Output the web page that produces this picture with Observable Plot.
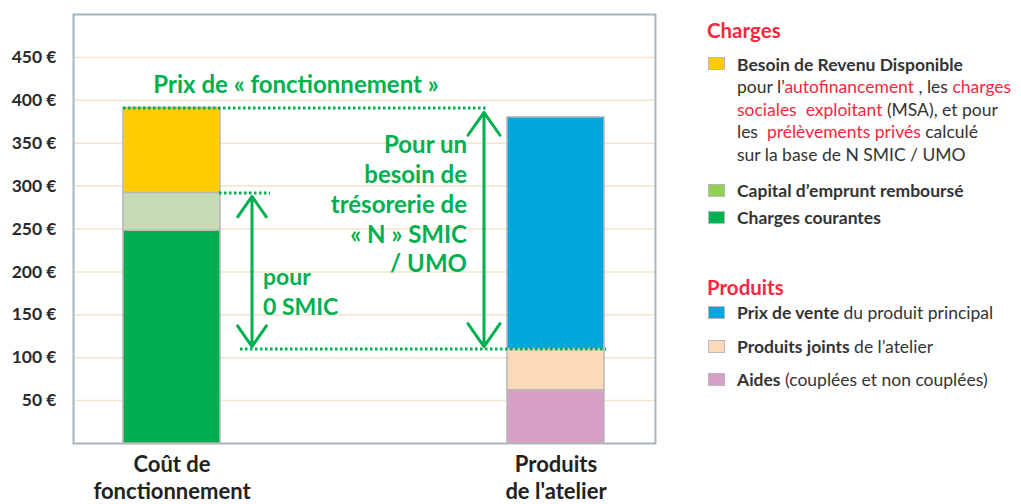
<!DOCTYPE html>
<html>
<head>
<meta charset="utf-8">
<script src="https://cdn.jsdelivr.net/npm/d3@7"></script>
<script src="https://cdn.jsdelivr.net/npm/@observablehq/plot@0.6"></script>
<style>
  html, body { margin: 0; padding: 0; background: #fff; }
  #wrap { position: relative; width: 1021px; height: 504px; font-family: Lato, "Open Sans", sans-serif; overflow: hidden; }
  #legend { position: absolute; left: 0; top: 0; width: 1021px; height: 504px; pointer-events: none; }
  .li { position: absolute; left: 737px; font-size: 17.5px; color: #333; white-space: nowrap; line-height: 22px; }
  .hd { position: absolute; left: 707px; font-size: 20.5px; font-weight: bold; color: #f5283f; line-height: 24px; }
  .sw { position: absolute; left: 708px; width: 17px; height: 13px; box-sizing: border-box; border: 1px solid #b9b9b9; }
  .r { color: #f5283f; }
  b { font-weight: bold; }
</style>
</head>
<body>
<div id="wrap"><div id="chart"></div><div id="legend"></div></div>
<script>
// ---- data ----
const categories = ["Coût de\nfonctionnement", "Produits\nde l'atelier"];
const seriesNames = ["Charges courantes", "Capital d'emprunt remboursé", "Besoin de Revenu Disponible",
                     "Aides", "Produits joints", "Prix de vente"];
const seriesCategory = [0, 0, 0, 1, 1, 1];
const seriesValues = [248, 44, 99, 62, 48, 270];
const barColors = ["#00b050", "#c5dbb6", "#ffcc00", "#d6a0c6", "#fdd9b9", "#00a7dd"];
const yTicks = [50, 100, 150, 200, 250, 300, 350, 400, 450];
const levelPrix = 391;      // prix de fonctionnement
const levelZeroSmic = 292;  // sans rémunération
const levelProduits = 110;  // produits hors prix de vente
const annotPrix = "Prix de « fonctionnement »";
const annotN = "Pour un\nbesoin de\ntrésorerie de\n« N » SMIC\n/ UMO";
const annot0 = "pour\n0 SMIC";

const segments = seriesNames.map((s, i) => ({
  category: categories[seriesCategory[i]], series: s, value: seriesValues[i]
}));

const green = "#00b050";

const chart = Plot.plot({
  width: 1021, height: 504,
  marginLeft: 73, marginRight: 366, marginTop: 14, marginBottom: 61,
  style: { fontFamily: "Lato, 'Open Sans', sans-serif", background: "transparent", color: "#2a2a2a" },
  x: { domain: categories, paddingInner: 0.747, paddingOuter: 0.13, label: null },
  y: { domain: [0, 500], label: null },
  color: { domain: seriesNames, range: barColors },
  marks: [
    Plot.gridY(yTicks, { stroke: "#f1e4cc", strokeOpacity: 1, strokeWidth: 1.5 }),
    Plot.frame({ stroke: "#a9b3bd", strokeWidth: 2 }),
    Plot.barY(segments, { x: "category", y: "value", fill: "series", stroke: "#b7b7b7", strokeWidth: 1.5 }),
    Plot.ruleY([levelPrix], { insetLeft: 50, insetRight: 167, stroke: green, strokeWidth: 3, strokeDasharray: "2.5 2.5" }),
    Plot.ruleY([levelZeroSmic], { insetLeft: 146, insetRight: 385, stroke: green, strokeWidth: 3, strokeDasharray: "2.5 2.5" }),
    Plot.ruleY([levelProduits], { insetLeft: 167, insetRight: 49, stroke: green, strokeWidth: 3, strokeDasharray: "2.5 2.5" }),
    // arrows
    Plot.arrow([{ a: (levelZeroSmic + levelProduits) / 2, b: levelZeroSmic - 4 }, { a: (levelZeroSmic + levelProduits) / 2, b: levelProduits + 3 }],
      { x1: () => categories[0], x2: () => categories[0], y1: "a", y2: "b", dx: 80, stroke: green, strokeWidth: 3, headLength: 14, headAngle: 70 }),
    Plot.arrow([{ a: (levelPrix + levelProduits) / 2, b: levelPrix - 5 }, { a: (levelPrix + levelProduits) / 2, b: levelProduits + 3 }],
      { x1: () => categories[1], x2: () => categories[1], y1: "a", y2: "b", dx: -72, stroke: green, strokeWidth: 3, headLength: 14, headAngle: 70 }),
    // annotation texts
    Plot.text([annotPrix], { x: () => categories[0], y: () => 418, dx: 124, text: d => d, fill: green, fontSize: 24, fontWeight: "bold", textAnchor: "middle" }),
    Plot.text([annotN], { x: () => categories[1], y: () => 280, dx: -89, text: d => d, fill: green, fontSize: 24, fontWeight: "bold", textAnchor: "end", lineHeight: 1.24 }),
    Plot.text([annot0], { x: () => categories[0], y: () => 178, dx: 91, text: d => d, fill: green, fontSize: 23, fontWeight: "bold", textAnchor: "start", lineHeight: 1.3 }),
    // axes
    Plot.axisY({ ticks: yTicks, tickSize: 0, tickPadding: 17, fontSize: 17.5, fontWeight: "bold", tickFormat: d => d + " €", label: null }),
    Plot.axisX({ tickSize: 0, tickPadding: 10, fontSize: 22, fontWeight: "bold", lineHeight: 1.2, label: null, fill: "#222" })
  ]
});
document.getElementById("chart").appendChild(chart);

// ---- legend ----
const legendColors = ["#ffcc00", "#92d050", "#00b050", "#00a7dd", "#fdd9b9", "#d6a0c6"];
const L = document.getElementById("legend");
const items = [
  ["hd", 18, "Charges"],
  ["sw", 57, legendColors[0]],
  ["li", 54, "<b>Besoin de Revenu Disponible</b>"],
  ["li", 76, "pour l’<span class='r'>autofinancement</span> , les <span class='r'>charges</span>"],
  ["li", 99, "<span class='r'>sociales&nbsp; exploitant</span> (MSA), et pour"],
  ["li", 121, "les&nbsp; <span class='r'>prélèvements privés</span> calculé"],
  ["li", 144, "sur la base de N SMIC / UMO"],
  ["sw", 184, legendColors[1]],
  ["li", 180, "<b>Capital d’emprunt remboursé</b>"],
  ["sw", 211, legendColors[2]],
  ["li", 207, "<b>Charges courantes</b>"],
  ["hd", 275, "Produits"],
  ["sw", 306, legendColors[3]],
  ["li", 302, "<b>Prix de vente</b> du produit principal"],
  ["sw", 340, legendColors[4]],
  ["li", 336, "<b>Produits joints</b> de l’atelier"],
  ["sw", 373, legendColors[5]],
  ["li", 369, "<b>Aides</b> (couplées et non couplées)"]
];
for (const [cls, top, content] of items) {
  const d = document.createElement("div");
  d.className = cls;
  d.style.top = top + "px";
  if (cls === "sw") d.style.background = content; else d.innerHTML = content;
  L.appendChild(d);
}
</script>
</body>
</html>
